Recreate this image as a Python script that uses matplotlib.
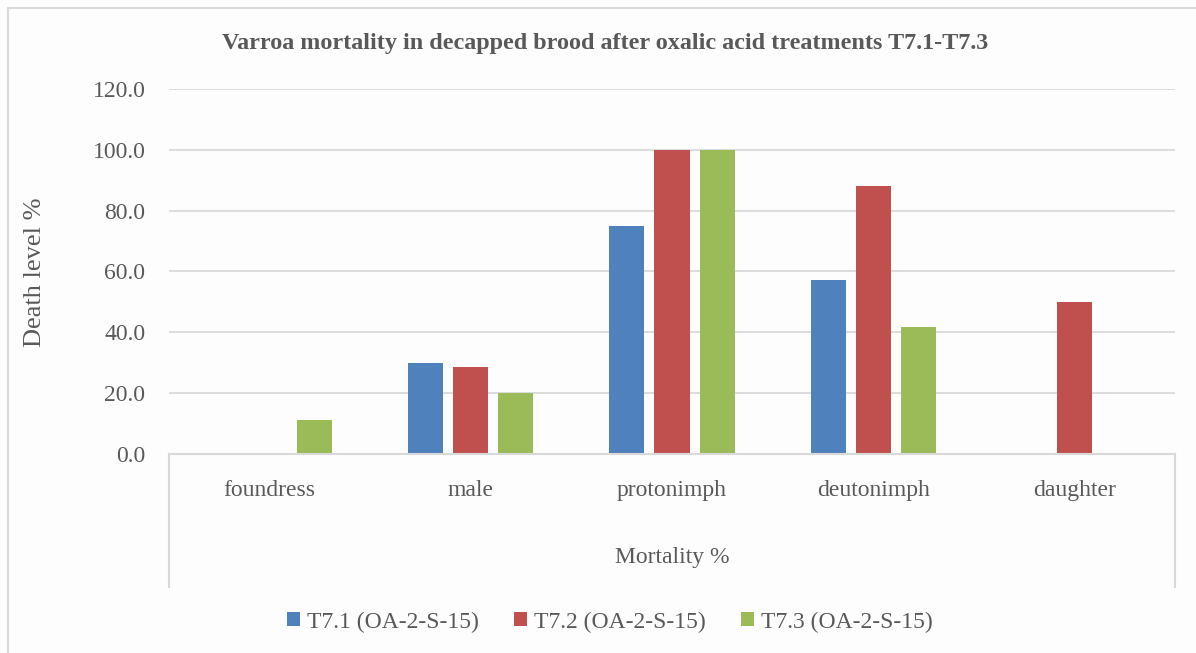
import matplotlib.pyplot as plt
import numpy as np
from matplotlib.patches import Rectangle

# Data
stages = ["foundress", "male", "protonimph", "deutonimph", "daughter"]
t71 = [0.0, 30.0, 75.0, 57.1, 0.0]
t72 = [0.0, 28.6, 100.0, 88.2, 50.0]
t73 = [11.1, 20.0, 100.0, 41.7, 0.0]
series_names = ["T7.1 (OA-2-S-15)", "T7.2 (OA-2-S-15)", "T7.3 (OA-2-S-15)"]
colors = ["#4F81BD", "#C0504D", "#9BBB59"]

plt.rcParams['font.family'] = ['Liberation Serif', 'DejaVu Serif']
text_col = "#595959"
bg = "#FCFDFC"

W, H = 1196, 653
fig = plt.figure(figsize=(W / 100, H / 100), dpi=100, facecolor=bg)

# outer chart border (only left and top edges fall inside the picture)
fig.patches.append(Rectangle((8 / W, -0.2), 1.2, (H - 8) / H + 0.2, transform=fig.transFigure,
                             fill=False, edgecolor="#D9D9D9", linewidth=1.5))

left, right, top, bottom = 169, 1175, 89, 454
ax = fig.add_axes([left / W, (H - bottom) / H, (right - left) / W, (bottom - top) / H])
ax.set_facecolor(bg)

x = np.arange(len(stages))
width = 0.174
offset = 0.224
for i, vals in enumerate([t71, t72, t73]):
    ax.bar(x + (i - 1) * offset, vals, width, color=colors[i], label=series_names[i], zorder=3)

ax.set_xlim(-0.5, len(stages) - 0.5)
ax.set_ylim(0, 120)
ax.set_yticks(np.arange(0, 121, 20))
ax.set_yticklabels([f"{v:.1f}" for v in np.arange(0, 121, 20)], fontsize=17, color=text_col)
ax.tick_params(axis='y', length=0, pad=17)
ax.grid(axis='y', color="#D9D9D9", linewidth=1.3, zorder=0)
ax.set_xticks([])
for s in ax.spines.values():
    s.set_visible(False)

# category axis box
box_h = (587 - 454) / (bottom - top)
ax.plot([0, 1], [0, 0], transform=ax.transAxes, color="#D9D9D9", linewidth=1.5, clip_on=False, zorder=4)
for xx in (0, 1):
    ax.plot([xx, xx], [0, -box_h], transform=ax.transAxes, color="#D9D9D9", linewidth=1.5, clip_on=False)

for xi, name in zip(x, stages):
    ax.text(xi, -12, name, ha='center', va='center', fontsize=17, color=text_col)

fig.text((left + right) / 2 / W, 1 - 558 / H, "Mortality %", ha='center', va='center',
         fontsize=17, color=text_col)
fig.text(35 / W, 1 - 272 / H, "Death level %", rotation=90, ha='center', va='center',
         fontsize=19, color=text_col)
fig.text(605 / W, 1 - 44 / H,
         "Varroa mortality in decapped brood after oxalic acid treatments T7.1-T7.3",
         ha='center', va='center', fontsize=17.4, fontweight='bold', color=text_col)

leg = fig.legend(loc='center', bbox_to_anchor=(610 / W, 1 - 622 / H), ncol=3, frameon=False,
                 fontsize=17, handlelength=0.55, handleheight=0.55, handletextpad=0.3,
                 columnspacing=1.5)
for t in leg.get_texts():
    t.set_color(text_col)

fig.savefig("out.png", dpi=100, facecolor=bg)
